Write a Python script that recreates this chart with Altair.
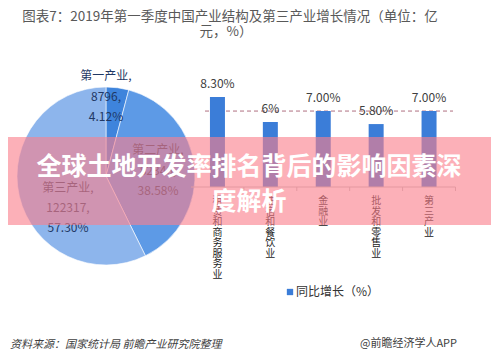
import altair as alt
import pandas as pd

# ---- data ----
industries = ["第一产业", "第二产业", "第三产业"]
industry_values = [8796, 82346, 122317]
industry_shares = ["4.12%", "38.58%", "57.30%"]

sectors = ["租赁和商务服务业", "住宿和餐饮业", "金融业", "批发和零售业", "第三产业"]
growth = [8.3, 6.0, 7.0, 5.8, 7.0]
growth_labels = ["8.30%", "6%", "7.00%", "5.80%", "7.00%"]
reference_growth = [7.0]

FONT = "Noto Sans CJK SC"
BLUE = "#3b7dd8"

pie_df = pd.DataFrame({"industry": industries, "value": industry_values,
                       "idx": list(range(len(industries)))})
bar_df = pd.DataFrame({"sector": sectors, "growth": growth, "label": growth_labels,
                       "vlabel": ["\n".join(list(s)) for s in sectors]})
ref_df = pd.DataFrame({"ref": reference_growth})
base_df = pd.DataFrame({"sector": sectors, "zero": [0.0] * len(sectors),
                        "tick": [-0.37] * len(sectors)})

xscale = alt.Scale(domain=sectors, range=[183, 447.5], paddingInner=0, paddingOuter=0)
yscale = alt.Scale(domain=[0, 10], range=[179, 70.5])
X = alt.X("sector:N", sort=sectors, scale=xscale, axis=None)


def txt(s, x, y, size=12, color="#333333", align="center", baseline="middle",
        weight="normal", style="normal", line_height=None):
    kw = dict(font=FONT, fontSize=size, color=color, align=align, baseline=baseline,
              fontWeight=weight, fontStyle=style)
    if line_height is not None:
        kw["lineBreak"] = "\n"
        kw["lineHeight"] = line_height
    return alt.Chart(pd.DataFrame({"t": [s]})).mark_text(**kw).encode(
        text="t:N", x=alt.value(x), y=alt.value(y))


pie = alt.Chart(pie_df).mark_arc(outerRadius=89, stroke="white", strokeWidth=0.6).encode(
    theta=alt.Theta("value:Q", stack=True),
    color=alt.Color("industry:N", scale=alt.Scale(domain=industries,
                    range=["#3e84dc", "#5d9ae6", "#8db5ec"]), legend=None),
    order=alt.Order("idx:Q"),
    x=alt.value(98), y=alt.value(168),
)

label_color = "#1f3864"
pie_labels = [
    txt(f"{industries[0]},\n{industry_values[0]},\n{industry_shares[0]}", 98, 68,
        size=12, color=label_color, line_height=20.5),
    txt(f"{industries[1]},\n{industry_values[1]},\n{industry_shares[1]}", 150, 142,
        size=12, color=label_color, line_height=20.5),
    txt(f"{industries[2]},\n{industry_values[2]},\n{industry_shares[2]}", 60, 180,
        size=12, color=label_color, line_height=20),
]

ref_rule = alt.Chart(ref_df).mark_rule(strokeDash=[4, 3], color="#b07080", strokeWidth=1).encode(
    y=alt.Y("ref:Q", scale=yscale, axis=None), x=alt.value(197), x2=alt.value(445))

bars = alt.Chart(bar_df).mark_bar(size=15, color=BLUE).encode(
    x=X, y=alt.Y("growth:Q", scale=yscale, axis=None))

bar_text = alt.Chart(bar_df).mark_text(font=FONT, fontSize=12, color="#404040",
                                       baseline="bottom", dy=-6).encode(
    x=X, y=alt.Y("growth:Q", scale=yscale, axis=None), text="label:N")

cat_text = alt.Chart(bar_df).mark_text(font=FONT, fontSize=10, color="#222222",
                                       baseline="top", lineBreak="\n", lineHeight=10.5).encode(
    x=X, y=alt.value(188), text="vlabel:N")

axis_line = alt.Chart(base_df.head(1)).mark_rule(color="#bfbfbf").encode(
    y=alt.Y("zero:Q", scale=yscale, axis=None), x=alt.value(183), x2=alt.value(447.5))

axis_ticks = alt.Chart(base_df).mark_rule(color="#bfbfbf").encode(
    x=alt.X("sector:N", sort=sectors, scale=xscale, axis=None, bandPosition=1),
    y=alt.Y("zero:Q", scale=yscale, axis=None), y2="tick:Q")

legend_sq = alt.Chart(pd.DataFrame({"s": ["同比增长（%）"]})).mark_square(
    size=40, color=BLUE, opacity=1).encode(x=alt.value(282), y=alt.value(284))
legend_txt = txt("同比增长（%）", 288, 284, size=12, color="#333333", align="left")

title1 = txt("图表7：2019年第一季度中国产业结构及第三产业增长情况（单位：亿", 222, 9,
             size=13.5, color="#595959")
title2 = txt("元，%）", 218, 24, size=13.5, color="#595959")

footer1 = txt("资料来源：国家统计局 前瞻产业研究院整理", 2, 337, size=11,
              color="#404040", align="left", style="italic")
footer2 = txt("@前瞻经济学人APP", 352, 336, size=11, color="#404040", align="left")

banner = alt.Chart(pd.DataFrame({"b": [1]})).mark_rect(color="#fa808c", opacity=0.62).encode(
    x=alt.value(-8), x2=alt.value(491), y=alt.value(129), y2=alt.value(217))
banner_t1 = txt("全球土地开发率排名背后的影响因素深", 241, 159, size=25,
                color="white", weight="bold")
banner_t2 = txt("度解析", 241, 194, size=25, color="white", weight="bold")

chart = alt.layer(
    pie, *pie_labels, ref_rule, bars, bar_text, axis_line, axis_ticks, cat_text,
    legend_sq, legend_txt, title1, title2, footer1, footer2,
    banner, banner_t1, banner_t2,
).properties(
    width=483, height=347, padding=0, autosize=alt.AutoSizeParams(type="none"),
    background="white",
).configure_view(stroke=None)

chart.save("out.html", embed_options={"renderer": "svg", "actions": False})
